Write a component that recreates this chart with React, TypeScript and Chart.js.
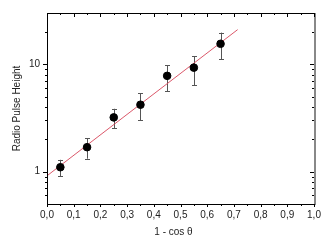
import React, { useEffect, useRef } from "react";
import { Chart, registerables } from "chart.js";

Chart.register(...registerables);

// Data
const xValues = [0.05, 0.15, 0.25, 0.35, 0.45, 0.55, 0.65];
const yValues = [1.1, 1.69, 3.2, 4.2, 7.8, 9.3, 15.5];
const yErrLow = [0.91, 1.32, 2.55, 3.02, 5.6, 6.4, 11.1];
const yErrHigh = [1.29, 2.05, 3.85, 5.35, 9.8, 11.9, 19.7];
const fitX = [0, 0.714];
const fitY = [0.915, 21.0];
const xMajorTicks = [0, 0.1, 0.2, 0.3, 0.4, 0.5, 0.6, 0.7, 0.8, 0.9, 1.0];
const xMinorTicks = [0.05, 0.15, 0.25, 0.35, 0.45, 0.55, 0.65, 0.75, 0.85, 0.95];
const yMajorTicks = [1, 10];
const yMinorTicks = [0.5, 0.6, 0.7, 0.8, 0.9, 2, 3, 4, 5, 6, 7, 8, 9, 20, 30];
const xTitle = "1 - cos \u03b8";
const yTitle = "Radio Pulse Height";

const FONT = "'Liberation Sans', Arial, sans-serif";

const framePlugin = {
  id: "framePlugin",
  beforeDatasetsDraw(chart: any) {
    const ctx = chart.ctx;
    const xs = chart.scales.x;
    const ys = chart.scales.y;
    ctx.save();
    // error bars
    ctx.strokeStyle = "#555";
    ctx.lineWidth = 1;
    for (let i = 0; i < xValues.length; i++) {
      const px = Math.round(xs.getPixelForValue(xValues[i])) + 0.5;
      const pl = ys.getPixelForValue(yErrLow[i]);
      const ph = ys.getPixelForValue(yErrHigh[i]);
      ctx.beginPath();
      ctx.moveTo(px, pl);
      ctx.lineTo(px, ph);
      ctx.moveTo(px - 2.5, Math.round(pl) + 0.5);
      ctx.lineTo(px + 2.5, Math.round(pl) + 0.5);
      ctx.moveTo(px - 2.5, Math.round(ph) + 0.5);
      ctx.lineTo(px + 2.5, Math.round(ph) + 0.5);
      ctx.stroke();
    }
    ctx.restore();
  },
  afterDraw(chart: any) {
    const ctx = chart.ctx;
    const xs = chart.scales.x;
    const ys = chart.scales.y;
    const { left, right, top, bottom } = chart.chartArea;
    ctx.save();
    // frame
    ctx.strokeStyle = "#000";
    ctx.lineWidth = 1;
    ctx.beginPath();
    ctx.moveTo(Math.round(right), Math.round(top) + 0.5);
    ctx.lineTo(Math.round(left) + 0.5, Math.round(top) + 0.5);
    ctx.lineTo(Math.round(left) + 0.5, Math.round(bottom) + 0.5);
    ctx.lineTo(Math.round(right), Math.round(bottom) + 0.5);
    ctx.stroke();
    ctx.strokeStyle = "#888";
    ctx.lineWidth = 2;
    ctx.beginPath();
    ctx.moveTo(Math.round(right) + 1, Math.round(top));
    ctx.lineTo(Math.round(right) + 1, Math.round(bottom) + 1);
    ctx.stroke();

    ctx.strokeStyle = "#000";
    ctx.lineWidth = 1;
    ctx.beginPath();
    const xTick = (v: number, len: number, lenTop: number) => {
      const px = Math.round(xs.getPixelForValue(v)) + 0.5;
      ctx.moveTo(px, bottom);
      ctx.lineTo(px, bottom + len);
      ctx.moveTo(px, top);
      ctx.lineTo(px, top + lenTop);
    };
    xMajorTicks.forEach((v) => xTick(v, 3, 4));
    xMinorTicks.forEach((v) => xTick(v, 2, 2));
    const yTick = (v: number, len: number, lenR: number) => {
      const py = Math.round(ys.getPixelForValue(v)) + 0.5;
      ctx.moveTo(left - len, py);
      ctx.lineTo(left, py);
      ctx.moveTo(right, py);
      ctx.lineTo(right - lenR, py);
    };
    yMajorTicks.forEach((v) => yTick(v, 4, 4));
    yMinorTicks.forEach((v) => {
      if (v > 0.5 && v < 30) yTick(v, 2, 2);
    });
    ctx.stroke();

    // x title
    ctx.fillStyle = "#222";
    ctx.font = `10px ${FONT}`;
    ctx.textAlign = "center";
    ctx.textBaseline = "middle";
    ctx.fillText(xTitle, (left + right) / 2 - 7, 232);
    ctx.restore();
  },
};

export default function App() {
  const canvasRef = useRef<HTMLCanvasElement | null>(null);

  useEffect(() => {
    document.body.style.margin = "0";
    const canvas = canvasRef.current;
    if (!canvas) return;
    const chart = new Chart(canvas, {
      type: "scatter",
      data: {
        datasets: [
          {
            type: "line",
            data: fitX.map((x, i) => ({ x, y: fitY[i] })),
            borderColor: "rgba(215,70,90,0.9)",
            borderWidth: 1,
            pointRadius: 0,
            fill: false,
            order: 2,
          } as any,
          {
            data: xValues.map((x, i) => ({ x, y: yValues[i] })),
            backgroundColor: "#000",
            borderColor: "#000",
            pointRadius: 3.8,
            pointHoverRadius: 3.8,
            order: 1,
          },
        ],
      },
      options: {
        animation: false,
        responsive: false,
        maintainAspectRatio: false,
        events: [],
        layout: { padding: { top: 8, right: 18, left: 0, bottom: 0 } },
        plugins: {
          legend: { display: false },
          tooltip: { enabled: false },
        },
        scales: {
          x: {
            type: "linear",
            min: 0,
            max: 1,
            grid: { display: false, drawTicks: false },
            border: { display: false },
            afterBuildTicks: (scale: any) => {
              scale.ticks = xMajorTicks.map((v) => ({ value: v }));
            },
            afterFit: (scale: any) => {
              scale.height = 42;
            },
            ticks: {
              autoSkip: false,
              maxRotation: 0,
              padding: 5,
              color: "#222",
              font: { family: FONT, size: 10 },
              callback: (v: any) => Number(v).toFixed(1).replace(".", ","),
            },
          },
          y: {
            type: "logarithmic",
            min: 0.5,
            max: 30,
            grid: { display: false, drawTicks: false },
            border: { display: false },
            afterBuildTicks: (scale: any) => {
              scale.ticks = yMajorTicks.map((v) => ({ value: v }));
            },
            afterFit: (scale: any) => {
              scale.width = 47;
            },
            title: {
              display: true,
              text: yTitle,
              color: "#222",
              font: { family: FONT, size: 10 },
              padding: { top: 11, bottom: 0 },
            },
            ticks: {
              autoSkip: false,
              padding: 7,
              color: "#222",
              font: { family: FONT, size: 10 },
              callback: (v: any) => String(v),
            },
          },
        },
      },
      plugins: [framePlugin],
    });
    return () => chart.destroy();
  }, []);

  return (
    <div style={{ position: "absolute", left: 0, top: 0, width: 332, height: 246, background: "#fff" }}>
      <canvas ref={canvasRef} width={332} height={246} style={{ display: "block", width: 332, height: 246 }} />
    </div>
  );
}
